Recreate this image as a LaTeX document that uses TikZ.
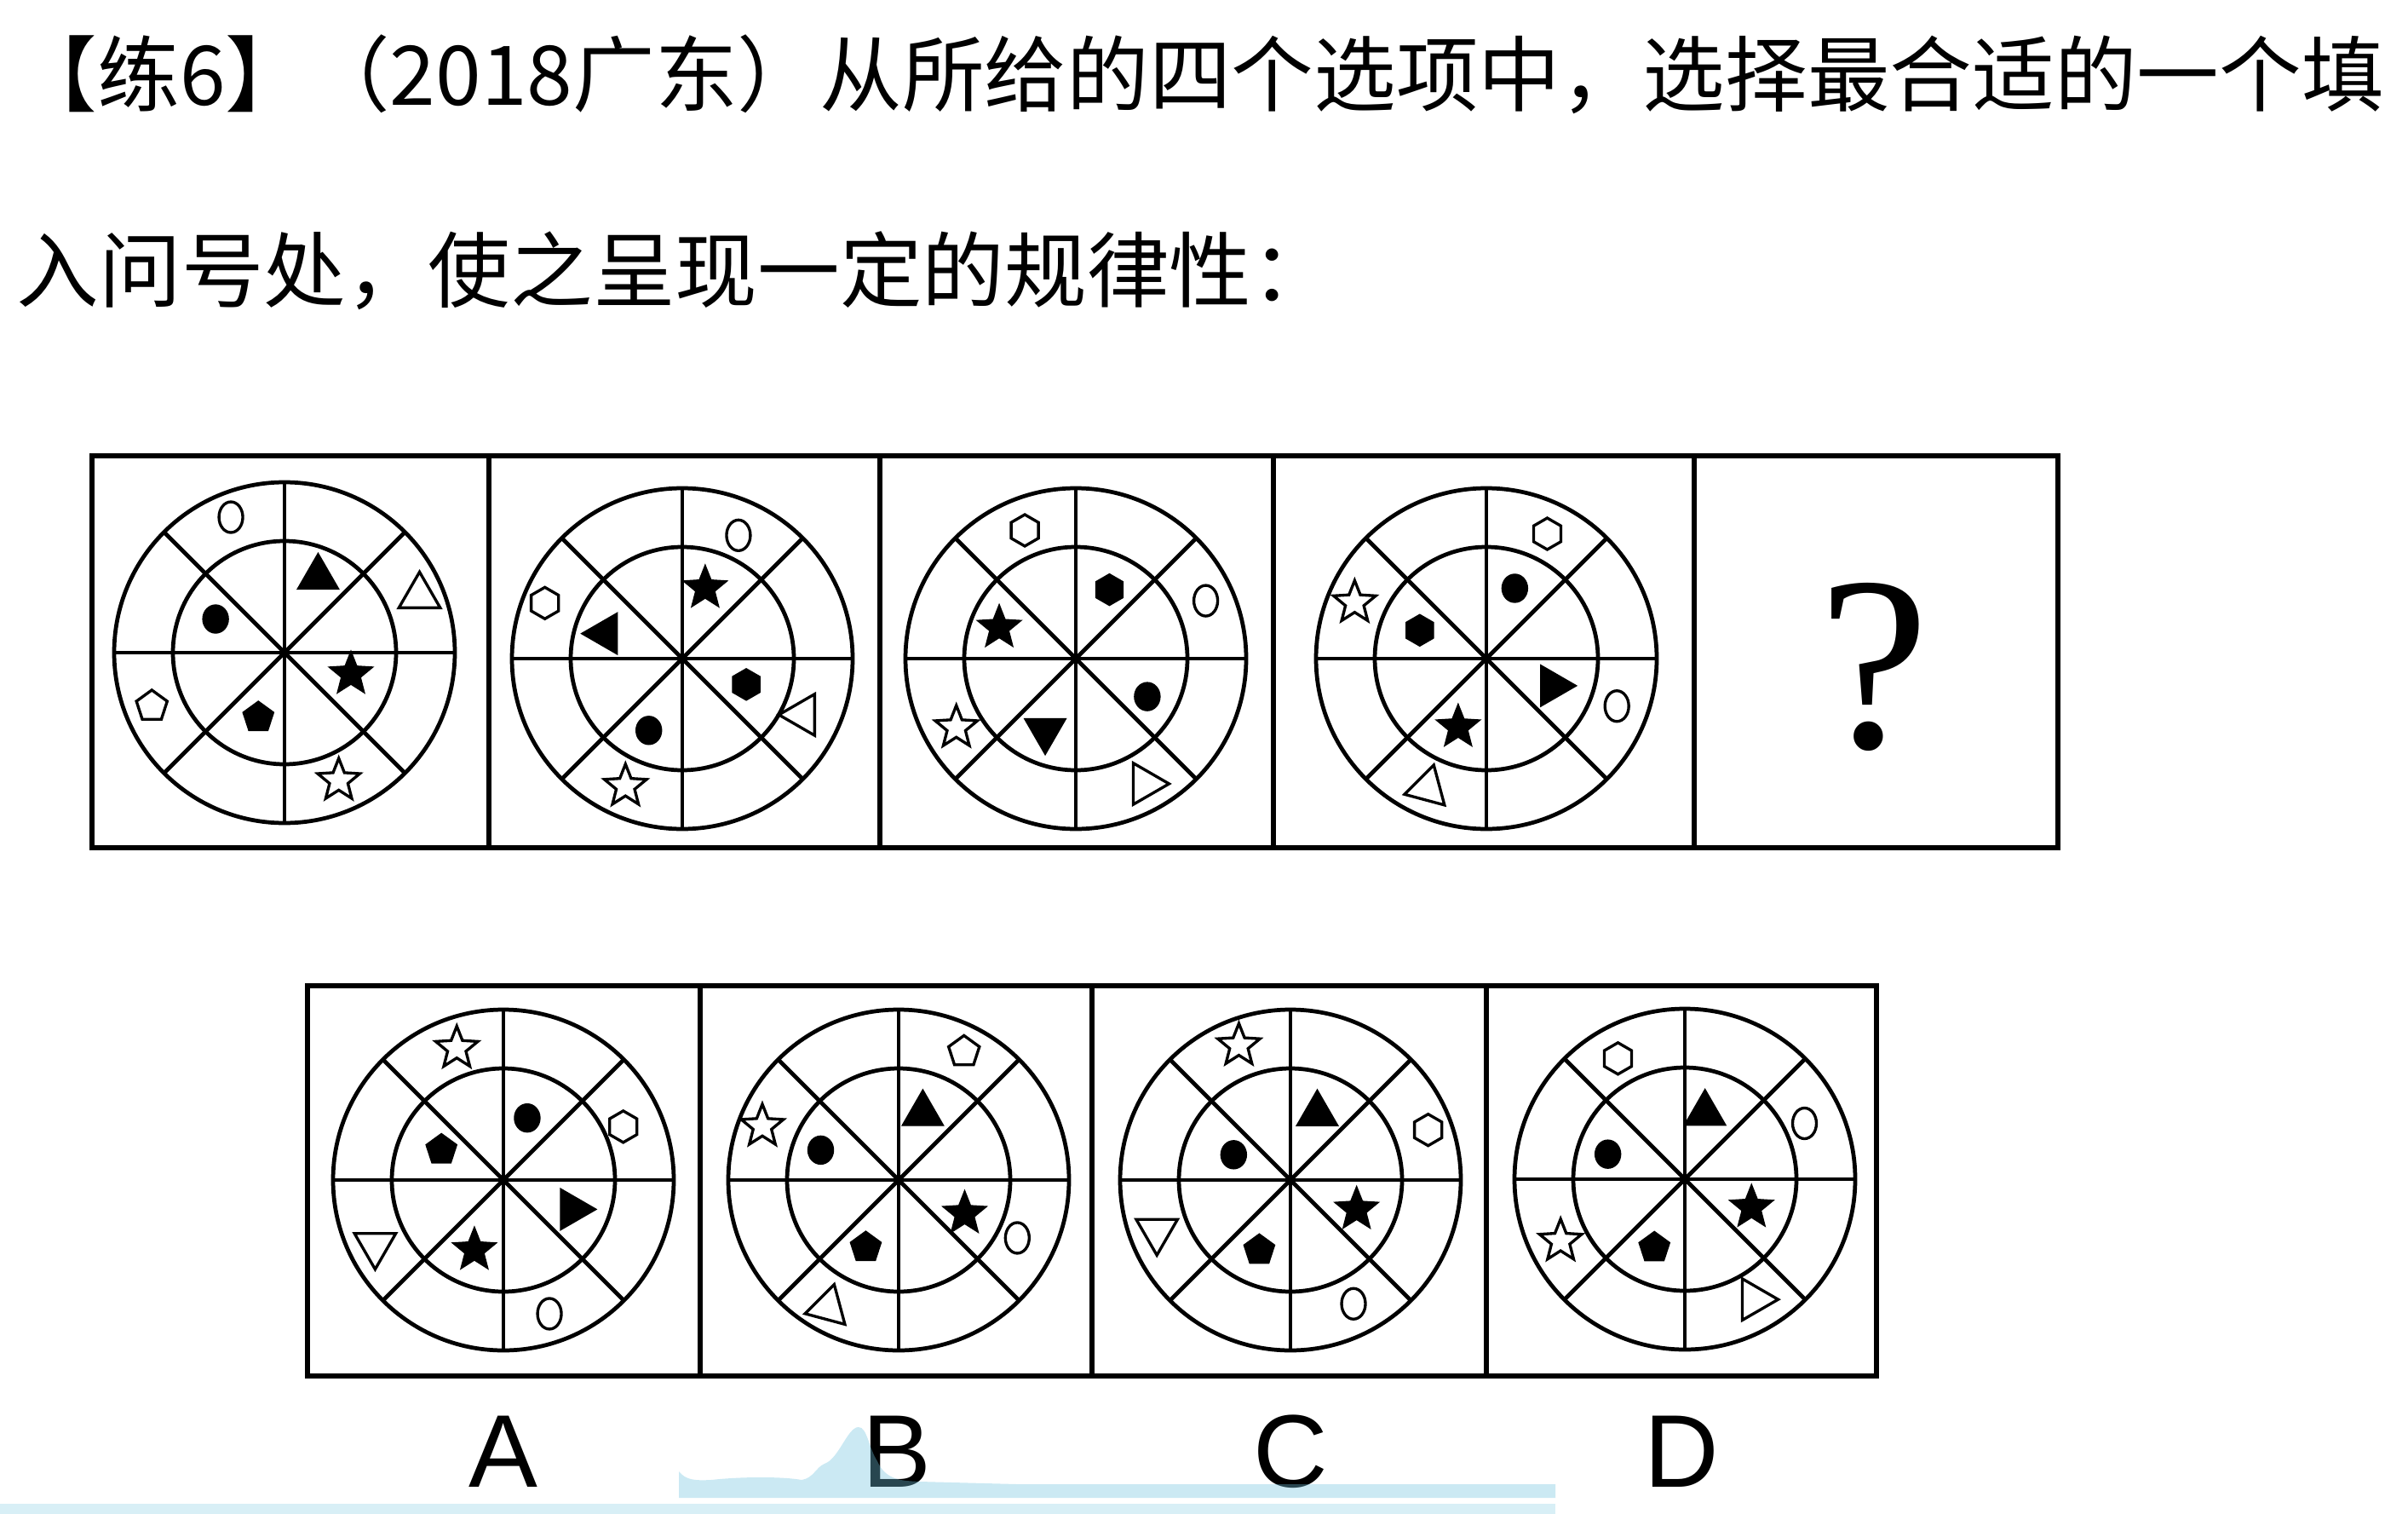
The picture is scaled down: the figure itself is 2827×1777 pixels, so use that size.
\documentclass[tikz,border=0pt]{standalone}
\usepackage{fontspec}
\setmainfont{Liberation Sans}
\newfontfamily\cjkfont{Noto Sans CJK SC}
\newfontfamily\qmfont{Liberation Serif}
\usepackage{tikz}
\usetikzlibrary{shapes.geometric}
\definecolor{veilblue}{RGB}{112,196,224}

\begin{document}
\begin{tikzpicture}[x=0.1mm, y=0.1mm,
panel/.style={line width=1.5pt},
wheel/.style={line width=1.35pt},
fillsh/.style={fill=black, draw=black, line width=0.4pt, inner sep=0pt},
opensh/.style={draw=black, line width=0.95pt, inner sep=0pt},
fstar/.style={fillsh, star, star points=5, star point ratio=2.3, minimum size=5.4mm},
ostar/.style={opensh, star, star points=5, star point ratio=2.3, minimum size=5.2mm},
ftri/.style={fillsh, regular polygon, regular polygon sides=3, minimum size=5.6mm},
otri/.style={opensh, regular polygon, regular polygon sides=3, minimum size=5.6mm},
fpent/.style={fillsh, regular polygon, regular polygon sides=5, minimum size=3.8mm},
opent/.style={opensh, regular polygon, regular polygon sides=5, minimum size=3.8mm},
fhex/.style={fillsh, regular polygon, regular polygon sides=6, shape border rotate=30, minimum size=3.7mm},
ohex/.style={opensh, regular polygon, regular polygon sides=6, shape border rotate=30, minimum size=3.7mm},
fdot/.style={fillsh, ellipse, minimum width=3.0mm, minimum height=3.3mm},
oring/.style={opensh, ellipse, minimum width=2.8mm, minimum height=3.6mm},
label/.style={anchor=base, font=\fontsize{34.5pt}{40pt}\selectfont},
textline/.style={anchor=base west, inner sep=0pt, font=\cjkfont\fontsize{27.5pt}{33pt}\selectfont}
]
	\fill[white] (0,0) rectangle (2827,-1777);
	\useasboundingbox (0,0) rectangle (2827,-1777);

	% question text
	\node[textline] (line1) at (17,-124) {【练6】（2018广东）从所给的四个选项中，选择最合适的一个填};
	\node[textline] (line2) at (19,-354) {入问号处，使之呈现一定的规律性：};

	% panels
	\draw[panel] (108,-535) rectangle (2416,-995);
	\draw[panel] (574,-535) -- (574,-995) (1033,-535) -- (1033,-995) (1495,-535) -- (1495,-995) (1989,-535) -- (1989,-995);
	\draw[panel] (361,-1157) rectangle (2203,-1615);
	\draw[panel] (822,-1157) -- (822,-1615) (1282,-1157) -- (1282,-1615) (1745,-1157) -- (1745,-1615);

	% wheel centres
	\coordinate (q1) at (334,-766);
	\coordinate (q2) at (801,-773);
	\coordinate (q3) at (1263,-773);
	\coordinate (q4) at (1745,-773);
	\coordinate (optA) at (591,-1385);
	\coordinate (optB) at (1055,-1385);
	\coordinate (optC) at (1515,-1385);
	\coordinate (optD) at (1978,-1384);

	\foreach \w in {q1,q2,q3,q4,optA,optB,optC,optD} {
		\draw[wheel] (\w) circle (200);
		\draw[wheel] (\w) circle (131);
		\foreach \a in {0,45,90,135}
			\draw[wheel] ([shift={(\a:200)}]\w) -- ([shift={(\a+180:200)}]\w);
	}

	% first figure
	\node[oring] (q1o1) at ([shift={(111.6:171)}]q1) {};
	\node[otri] (q1o2) at ([shift={(22.8:172)}]q1) {};
	\node[opent] (q1o3) at ([shift={(202:168)}]q1) {};
	\node[ostar] (q1o4) at ([shift={(293:163)}]q1) {};
	\node[ftri] (q1i1) at ([shift={(66:97)}]q1) {};
	\node[fdot] (q1i2) at ([shift={(154:90)}]q1) {};
	\node[fstar] (q1i3) at ([shift={(342:82)}]q1) {};
	\node[fpent] (q1i4) at ([shift={(248:82)}]q1) {};

	% second figure
	\node[oring] (q2o1) at ([shift={(65.5:159)}]q2) {};
	\node[ohex] (q2o2) at ([shift={(158:174)}]q2) {};
	\node[otri, shape border rotate=90] (q2o3) at ([shift={(335:156)}]q2) {};
	\node[ostar] (q2o4) at ([shift={(246:164)}]q2) {};
	\node[fstar] (q2i1) at ([shift={(72:87)}]q2) {};
	\node[ftri, shape border rotate=90] (q2i2) at ([shift={(162:95)}]q2) {};
	\node[fhex] (q2i3) at ([shift={(338:81)}]q2) {};
	\node[fdot] (q2i4) at ([shift={(245:93)}]q2) {};

	% third figure
	\node[ohex] (q3o1) at ([shift={(111.7:162)}]q3) {};
	\node[oring] (q3o2) at ([shift={(24:167)}]q3) {};
	\node[ostar] (q3o3) at ([shift={(210:162)}]q3) {};
	\node[otri, shape border rotate=-90] (q3o4) at ([shift={(299:168)}]q3) {};
	\node[fhex] (q3i1) at ([shift={(64:90)}]q3) {};
	\node[fstar] (q3i2) at ([shift={(158:97)}]q3) {};
	\node[fdot] (q3i3) at ([shift={(332:95)}]q3) {};
	\node[ftri, shape border rotate=180] (q3i4) at ([shift={(247:92)}]q3) {};

	% fourth figure
	\node[ohex] (q4o1) at ([shift={(64:163)}]q4) {};
	\node[ostar] (q4o2) at ([shift={(157:168)}]q4) {};
	\node[oring] (q4o3) at ([shift={(340:163)}]q4) {};
	\node[otri, shape border rotate=-15] (q4o4) at ([shift={(245.6:167)}]q4) {};
	\node[fdot] (q4i1) at ([shift={(68:89)}]q4) {};
	\node[fhex] (q4i2) at ([shift={(157:85)}]q4) {};
	\node[ftri, shape border rotate=-90] (q4i3) at ([shift={(337.7:84)}]q4) {};
	\node[fstar] (q4i4) at ([shift={(247.6:87)}]q4) {};

	\node[font=\qmfont\fontsize{83pt}{90pt}\selectfont] (qmark) at (2200,-783) {?};

	% option A
	\node[ostar] (aO1) at ([shift={(109.5:164)}]optA) {};
	\node[ohex] (aO2) at ([shift={(24:154)}]optA) {};
	\node[otri, shape border rotate=180] (aO3) at ([shift={(207:169)}]optA) {};
	\node[oring] (aO4) at ([shift={(289:166)}]optA) {};
	\node[fdot] (aI1) at ([shift={(69:78)}]optA) {};
	\node[fpent] (aI2) at ([shift={(154:81)}]optA) {};
	\node[ftri, shape border rotate=-90] (aI3) at ([shift={(337:88)}]optA) {};
	\node[fstar] (aI4) at ([shift={(247.5:89)}]optA) {};

	% option B
	\node[opent] (bO1) at ([shift={(63:169)}]optB) {};
	\node[ostar] (bO2) at ([shift={(158.5:172)}]optB) {};
	\node[oring] (bO3) at ([shift={(334:155)}]optB) {};
	\node[otri, shape border rotate=-15] (bO4) at ([shift={(241:171)}]optB) {};
	\node[ftri] (bI1) at ([shift={(70:83)}]optB) {};
	\node[fdot] (bI2) at ([shift={(159:98)}]optB) {};
	\node[fstar] (bI3) at ([shift={(333:87)}]optB) {};
	\node[fpent] (bI4) at ([shift={(244:88)}]optB) {};

	% option C
	\node[ostar] (cO1) at ([shift={(111:169)}]optC) {};
	\node[ohex] (cO2) at ([shift={(20:172)}]optC) {};
	\node[otri, shape border rotate=180] (cO3) at ([shift={(201:168)}]optC) {};
	\node[oring] (cO4) at ([shift={(297:163)}]optC) {};
	\node[ftri] (cI1) at ([shift={(68:84)}]optC) {};
	\node[fdot] (cI2) at ([shift={(156:73)}]optC) {};
	\node[fstar] (cI3) at ([shift={(336:85)}]optC) {};
	\node[fpent] (cI4) at ([shift={(246:90)}]optC) {};

	% option D
	\node[ohex] (dO1) at ([shift={(119:162)}]optD) {};
	\node[oring] (dO2) at ([shift={(25:155)}]optD) {};
	\node[ostar] (dO3) at ([shift={(206.5:163)}]optD) {};
	\node[otri, shape border rotate=-90] (dO4) at ([shift={(300:163)}]optD) {};
	\node[ftri] (dI1) at ([shift={(73:81)}]optD) {};
	\node[fdot] (dI2) at ([shift={(162:95)}]optD) {};
	\node[fstar] (dI3) at ([shift={(337:85)}]optD) {};
	\node[fpent] (dI4) at ([shift={(246:88)}]optD) {};

	% option letters
	\node[label] (labA) at (591,-1745) {A};
	\node[label] (labB) at (1053,-1745) {B};
	\node[label] (labC) at (1515,-1745) {C};
	\node[label] (labD) at (1974,-1745) {D};

	% light blue strip at the bottom
	\fill[veilblue, fill opacity=0.36] (797,-1727) .. controls (805,-1737) and (815,-1738) .. (835,-1737) .. controls (870,-1733) and (920,-1733) .. (941,-1737) .. controls (955,-1735) and (958,-1722) .. (968,-1718) .. controls (985,-1712) and (995,-1675) .. (1008,-1675) .. controls (1018,-1675) and (1020,-1700) .. (1030,-1715) .. controls (1040,-1738) and (1060,-1738) .. (1080,-1739) -- (1194,-1742) -- (1826,-1742) -- (1826,-1758) -- (797,-1758) -- cycle;
	\fill[veilblue, fill opacity=0.27] (0,-1765) rectangle (1826,-1777);
\end{tikzpicture}
\end{document}
